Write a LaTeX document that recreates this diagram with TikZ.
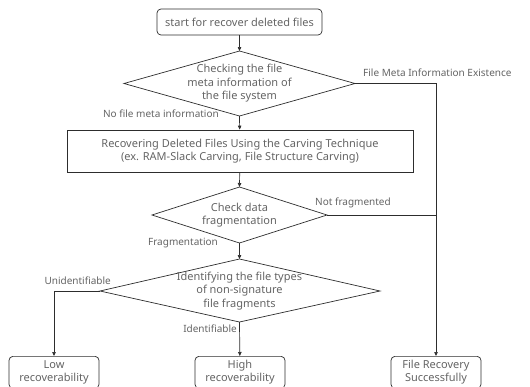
\documentclass[tikz,border=0pt]{standalone}
\usepackage{fontspec}
\setmainfont{Noto Sans}
\usepackage{tikz}
\usetikzlibrary{arrows.meta}

\definecolor{txtgray}{RGB}{100,100,100}
\definecolor{linegray}{RGB}{45,45,45}

\tikzset{
  box/.style={draw=linegray, line width=.7pt, minimum width=90pt, minimum height=32pt,
    rounded corners=4pt, align=center, text=txtgray, anchor=north, inner sep=1pt},
  txt/.style={text=txtgray, align=center, inner sep=0pt, font=\fontsize{11}{13.5}\selectfont},
  lab/.style={text=txtgray, inner sep=1pt, font=\fontsize{10}{12}\selectfont},
  line/.style={draw=linegray, line width=.7pt},
  arr/.style={line, -{Triangle[length=4pt,width=3.5pt]}}
}

\begin{document}
\begin{tikzpicture}[x=1pt,y=-1pt]
          \useasboundingbox (0,0) rectangle (530,386);
          % start
          \node[box, txt, minimum width=165pt, minimum height=26pt, anchor=center] (start)
            at (239.5,22) {start for recover deleted files};
          % first decision
          \coordinate (d1) at (239.5,83.5);
          \coordinate (d1n) at (239.5,51);
          \coordinate (d1s) at (239.5,116);
          \coordinate (d1w) at (124,83.5);
          \coordinate (d1e) at (355,83.5);
          \draw[line] (d1n) -- (d1e) -- (d1s) -- (d1w) -- cycle;
          \node[txt] at (d1) {Checking the file\\meta information of\\the file system};
          % carving
          \node[txt, draw=linegray, line width=.7pt, minimum width=346pt, minimum height=42pt]
            (carve) at (240,151) {Recovering Deleted Files Using the Carving Technique\\(ex. RAM-Slack Carving, File Structure Carving)};
          % second decision
          \coordinate (d2) at (239.5,215);
          \coordinate (d2n) at (239.5,187);
          \coordinate (d2s) at (239.5,243);
          \coordinate (d2w) at (152,215);
          \coordinate (d2e) at (327,215);
          \draw[line] (d2n) -- (d2e) -- (d2s) -- (d2w) -- cycle;
          \node[txt] at (d2) {Check data\\fragmentation};
          % third decision
          \coordinate (d3) at (239.5,291);
          \coordinate (d3n) at (239.5,259);
          \coordinate (d3s) at (239.5,322);
          \coordinate (d3w) at (100,291);
          \coordinate (d3e) at (380,291);
          \draw[line] (d3n) -- (d3e) -- (d3s) -- (d3w) -- cycle;
          \node[txt] at (d3) {Identifying the file types\\of non-signature\\file fragments};
          % results
          \node[box, txt, font=\fontsize{11}{12.5}\selectfont] (low) at (54,356) {Low\\recoverability};
          \node[box, txt, font=\fontsize{11}{12.5}\selectfont] (high) at (240,356) {High\\recoverability};
          \node[box, txt, font=\fontsize{11}{12.5}\selectfont] (ok) at (436,356) {File Recovery\\Successfully};
          % connectors
          \draw[arr] (start) -- (d1n);
          \draw[arr] (d1s) -- (carve);
          \draw[arr] (carve) -- (d2n);
          \draw[arr] (d2s) -- (d3n);
          \draw[arr] (d3s) -- (high);
          \draw[arr] (d3w) -| (low);
          \draw[arr] (d1e) -| (ok);
          \draw[line] (d2e) -- (d2e -| ok);
          % labels
          \node[lab, anchor=west] at (362,73) {File Meta Information Existence};
          \node[lab, anchor=east] at (220,114) {No file meta information};
          \node[lab, anchor=west] at (314,203) {Not fragmented};
          \node[lab, anchor=east] at (219,243) {Fragmentation};
          \node[lab, anchor=east] at (112,281) {Unidentifiable};
          \node[lab, anchor=east] at (238,329) {Identifiable};
        \end{tikzpicture}
\end{document}
